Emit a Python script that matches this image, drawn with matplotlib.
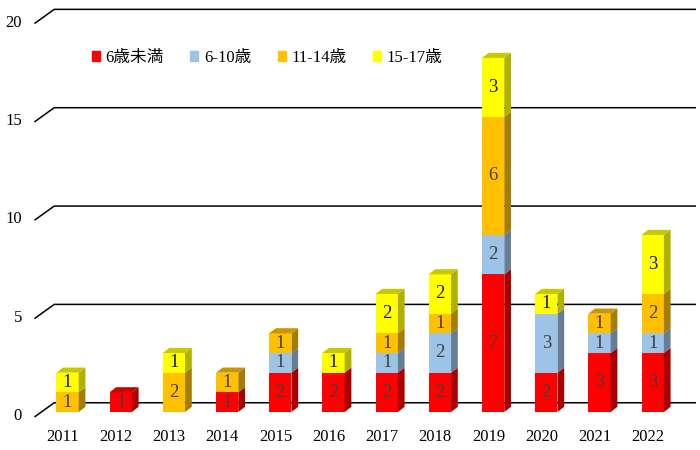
import matplotlib.pyplot as plt
from matplotlib.patches import Polygon, Patch

years = ['2011', '2012', '2013', '2014', '2015', '2016',
         '2017', '2018', '2019', '2020', '2021', '2022']
series = ['6歳未満', '6-10歳', '11-14歳', '15-17歳']
under6 = [0, 1, 0, 1, 2, 2, 2, 2, 7, 2, 3, 3]
age6_10 = [0, 0, 0, 0, 1, 0, 1, 2, 2, 3, 1, 1]
age11_14 = [1, 0, 2, 1, 1, 0, 1, 1, 6, 0, 1, 2]
age15_17 = [1, 0, 1, 0, 0, 1, 2, 2, 3, 1, 0, 3]
yticks = [0, 5, 10, 15, 20]

colors = ['#FF0000', '#9DC3E6', '#FFC000', '#FFFF00']
sides = ['#A80000', '#657E95', '#A67C00', '#B0B000']
tops = ['#C80000', '#7E9DB8', '#C89600', '#C8C800']
txtcol = ['#404040', '#404040', '#404040', '#1A1A1A']

serif = ['Liberation Serif', 'Noto Sans CJK JP']

fig = plt.figure(figsize=(7, 4.5), dpi=100)
ax = fig.add_axes([0, 0, 1, 1])
ax.set_xlim(-1.269, 11.889)
ax.set_ylim(-1.932, 20.946)
ax.axis('off')

# back wall grid lines with the short slanted part on the left
for v in yticks:
    ax.plot([-0.61, -0.25, 11.8], [v - 0.23, v + 0.47, v + 0.47],
            color='black', lw=1.1, zorder=1)
    ax.text(-0.855, v - 0.2, str(v), ha='right', va='center',
            fontsize=12, family=serif)

w = 0.42
dx = 0.126
dy = 0.26
data = [under6, age6_10, age11_14, age15_17]
for i, yr in enumerate(years):
    bottom = 0
    top_k = None
    for k in range(4):
        v = data[k][i]
        if v == 0:
            continue
        ax.bar(i, v, w, bottom=bottom, color=colors[k], zorder=3)
        xr = i + w / 2
        ax.add_patch(Polygon([(xr, bottom), (xr + dx, bottom + dy),
                              (xr + dx, bottom + v + dy), (xr, bottom + v)],
                             closed=True, fc=sides[k], ec='none', zorder=3))
        ax.text(i, bottom + v / 2, str(v), ha='center', va='center',
                fontsize=13.5, color=txtcol[k], family=serif, zorder=4)
        bottom += v
        top_k = k
    if top_k is not None:
        xl = i - w / 2
        xr = i + w / 2
        ax.add_patch(Polygon([(xl, bottom), (xl + dx, bottom + dy),
                              (xr + dx, bottom + dy), (xr, bottom)],
                             closed=True, fc=tops[top_k], ec='none', zorder=3))
    ax.text(i - 0.09, -1.25, yr, ha='center', va='center',
            fontsize=12, family=serif)

handles = [Patch(color=c, label=s) for c, s in zip(colors, series)]
leg = fig.legend(handles=handles, loc='center left',
                 bbox_to_anchor=(92 / 700, 1 - 58 / 450),
                 ncol=4, frameon=False, handlelength=0.48, handleheight=0.48,
                 handletextpad=0.33, columnspacing=1.6,
                 borderpad=0, borderaxespad=0,
                 prop={'family': serif, 'size': 12})

fig.savefig('out.png', dpi=100)
